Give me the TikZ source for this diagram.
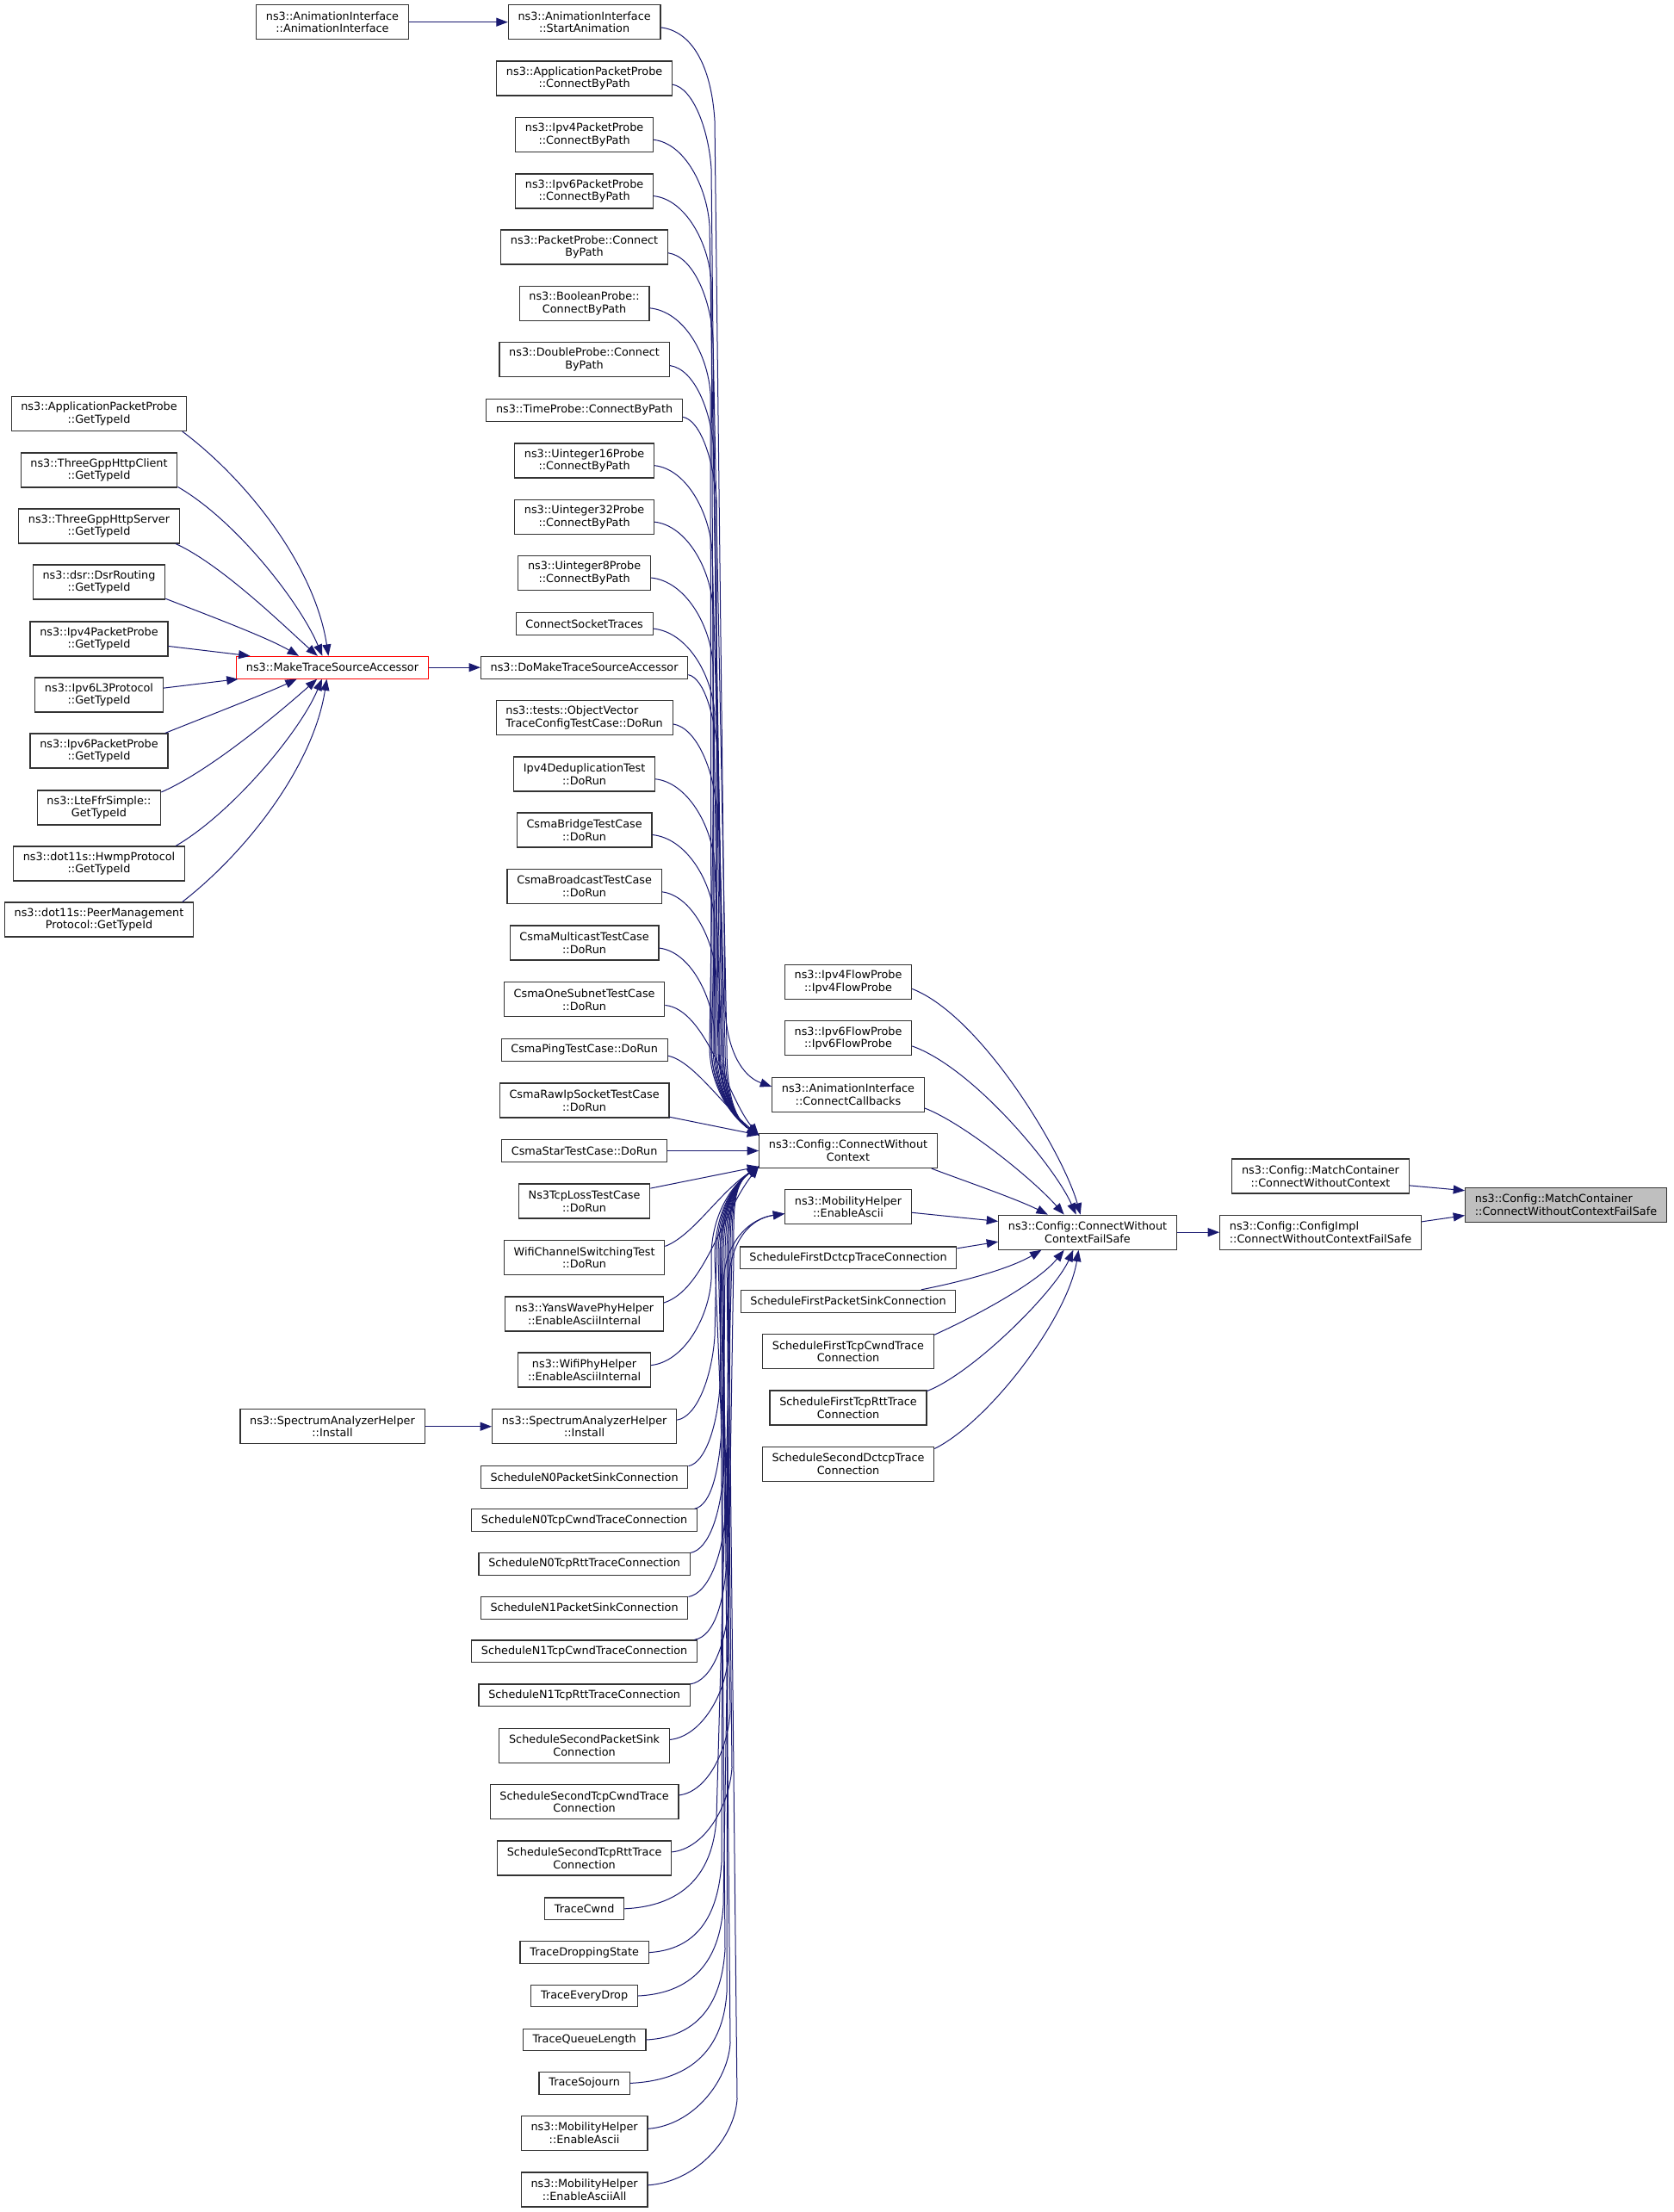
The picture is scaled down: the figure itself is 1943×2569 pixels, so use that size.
\documentclass[tikz,border=0pt]{standalone}
\usepackage{fontspec}
\setmainfont{DejaVu Sans}
\usepackage{tikz}
\usetikzlibrary{arrows.meta}
\definecolor{edgeblue}{HTML}{191970}

\begin{document}
\begin{tikzpicture}[x=0.75pt, y=0.75pt,
    fn/.style={draw=black!80, fill=white, line width=0.85pt, font=\fontsize{9.6}{11}\selectfont,
        align=center, inner xsep=8.45pt, inner ysep=2pt, minimum height=19.3pt},
    fn2/.style={fn, minimum height=30pt},
    call/.style={edgeblue, line width=0.75pt, -{Triangle[length=10pt, width=7.5pt]}}]
    \def\xa{115} % GetTypeId column
    \def\xm{386} % MakeTraceSourceAccessor column
    \def\xb{678.6} % big caller column
    \def\xc{985} % direct callers

    \useasboundingbox (0,0) rectangle (1943,-2569);
    \fill[white] (0,0) rectangle (1943,-2569);

    % GetTypeId callers
    \node[fn2] (a1) at (\xa,-480.5) {ns3::ApplicationPacketProbe\\::GetTypeId};
    \node[fn2] (a2) at (\xa,-546) {ns3::ThreeGppHttpClient\\::GetTypeId};
    \node[fn2] (a3) at (\xa,-611) {ns3::ThreeGppHttpServer\\::GetTypeId};
    \node[fn2] (a4) at (\xa,-676) {ns3::dsr::DsrRouting\\::GetTypeId};
    \node[fn2] (a5) at (\xa,-742) {ns3::Ipv4PacketProbe\\::GetTypeId};
    \node[fn2] (a6) at (\xa,-807) {ns3::Ipv6L3Protocol\\::GetTypeId};
    \node[fn2] (a7) at (\xa,-872) {ns3::Ipv6PacketProbe\\::GetTypeId};
    \node[fn2] (a8) at (\xa,-938) {ns3::LteFfrSimple::\\GetTypeId};
    \node[fn2] (a9) at (\xa,-1003) {ns3::dot11s::HwmpProtocol\\::GetTypeId};
    \node[fn2] (a10) at (\xa,-1068) {ns3::dot11s::PeerManagement\\Protocol::GetTypeId};

    \node[fn2] (anim) at (\xm,-25.7) {ns3::AnimationInterface\\::AnimationInterface};
    \node[fn, draw=red] (mtsa) at (\xm,-775.2) {ns3::MakeTraceSourceAccessor};
    \node[fn2] (sal) at (\xm,-1656.7) {ns3::SpectrumAnalyzerHelper\\::Install};

    % callers of ConnectWithoutContext
    \node[fn2] (b01) at (\xb,-25.7) {ns3::AnimationInterface\\::StartAnimation};
    \node[fn2] (b02) at (\xb,-91) {ns3::ApplicationPacketProbe\\::ConnectByPath};
    \node[fn2] (b03) at (\xb,-156.7) {ns3::Ipv4PacketProbe\\::ConnectByPath};
    \node[fn2] (b04) at (\xb,-222) {ns3::Ipv6PacketProbe\\::ConnectByPath};
    \node[fn2] (b05) at (\xb,-287) {ns3::PacketProbe::Connect\\ByPath};
    \node[fn2] (b06) at (\xb,-352.5) {ns3::BooleanProbe::\\ConnectByPath};
    \node[fn2] (b07) at (\xb,-417.6) {ns3::DoubleProbe::Connect\\ByPath};
    \node[fn] (b08) at (\xb,-476.3) {ns3::TimeProbe::ConnectByPath};
    \node[fn2] (b09) at (\xb,-535) {ns3::Uinteger16Probe\\::ConnectByPath};
    \node[fn2] (b10) at (\xb,-600.5) {ns3::Uinteger32Probe\\::ConnectByPath};
    \node[fn2] (b11) at (\xb,-665.6) {ns3::Uinteger8Probe\\::ConnectByPath};
    \node[fn] (b12) at (\xb,-724.5) {ConnectSocketTraces};
    \node[fn] (b13) at (\xb,-775.2) {ns3::DoMakeTraceSourceAccessor};
    \node[fn2, align=left] (b14) at (\xb,-833.7) {ns3::tests::ObjectVector\\TraceConfigTestCase::DoRun};
    \node[fn2] (b15) at (\xb,-899) {Ipv4DeduplicationTest\\::DoRun};
    \node[fn2] (b16) at (\xb,-964) {CsmaBridgeTestCase\\::DoRun};
    \node[fn2] (b17) at (\xb,-1029.5) {CsmaBroadcastTestCase\\::DoRun};
    \node[fn2] (b18) at (\xb,-1095) {CsmaMulticastTestCase\\::DoRun};
    \node[fn2] (b19) at (\xb,-1160.9) {CsmaOneSubnetTestCase\\::DoRun};
    \node[fn] (b20) at (\xb,-1219.4) {CsmaPingTestCase::DoRun};
    \node[fn2] (b21) at (\xb,-1278) {CsmaRawIpSocketTestCase\\::DoRun};
    \node[fn] (b22) at (\xb,-1336.5) {CsmaStarTestCase::DoRun};
    \node[fn2] (b23) at (\xb,-1395) {Ns3TcpLossTestCase\\::DoRun};
    \node[fn2] (b24) at (\xb,-1460.6) {WifiChannelSwitchingTest\\::DoRun};
    \node[fn2] (b25) at (\xb,-1526) {ns3::YansWavePhyHelper\\::EnableAsciiInternal};
    \node[fn2] (b26) at (\xb,-1591) {ns3::WifiPhyHelper\\::EnableAsciiInternal};
    \node[fn2] (b27) at (\xb,-1656.7) {ns3::SpectrumAnalyzerHelper\\::Install};
    \node[fn] (b28) at (\xb,-1715.4) {ScheduleN0PacketSinkConnection};
    \node[fn] (b29) at (\xb,-1765.7) {ScheduleN0TcpCwndTraceConnection};
    \node[fn] (b30) at (\xb,-1816.4) {ScheduleN0TcpRttTraceConnection};
    \node[fn] (b31) at (\xb,-1867.2) {ScheduleN1PacketSinkConnection};
    \node[fn] (b32) at (\xb,-1917.8) {ScheduleN1TcpCwndTraceConnection};
    \node[fn] (b33) at (\xb,-1968.8) {ScheduleN1TcpRttTraceConnection};
    \node[fn2] (b34) at (\xb,-2027.4) {ScheduleSecondPacketSink\\Connection};
    \node[fn2] (b35) at (\xb,-2092.6) {ScheduleSecondTcpCwndTrace\\Connection};
    \node[fn2] (b36) at (\xb,-2158) {ScheduleSecondTcpRttTrace\\Connection};
    \node[fn] (b37) at (\xb,-2216.8) {TraceCwnd};
    \node[fn] (b38) at (\xb,-2267.6) {TraceDroppingState};
    \node[fn] (b39) at (\xb,-2318) {TraceEveryDrop};
    \node[fn] (b40) at (\xb,-2369) {TraceQueueLength};
    \node[fn] (b41) at (\xb,-2419.4) {TraceSojourn};
    \node[fn2] (b42) at (\xb,-2477.5) {ns3::MobilityHelper\\::EnableAscii};
    \node[fn2] (b43) at (\xb,-2543) {ns3::MobilityHelper\\::EnableAsciiAll};

    % direct callers of ConnectWithoutContextFailSafe
    \node[fn2] (ipv4f) at (\xc,-1140.6) {ns3::Ipv4FlowProbe\\::Ipv4FlowProbe};
    \node[fn2] (ipv6f) at (\xc,-1205.8) {ns3::Ipv6FlowProbe\\::Ipv6FlowProbe};
    \node[fn2] (cc) at (\xc,-1271.3) {ns3::AnimationInterface\\::ConnectCallbacks};
    \node[fn2] (cwc) at (\xc,-1336.5) {ns3::Config::ConnectWithout\\Context};
    \node[fn2] (mhc) at (\xc,-1401.8) {ns3::MobilityHelper\\::EnableAscii};
    \node[fn] (fdctcp) at (\xc,-1460.9) {ScheduleFirstDctcpTraceConnection};
    \node[fn] (fps) at (\xc,-1511.2) {ScheduleFirstPacketSinkConnection};
    \node[fn2] (fcwnd) at (\xc,-1569.7) {ScheduleFirstTcpCwndTrace\\Connection};
    \node[fn2] (frtt) at (\xc,-1635) {ScheduleFirstTcpRttTrace\\Connection};
    \node[fn2] (sdctcp) at (\xc,-1700.2) {ScheduleSecondDctcpTrace\\Connection};

    \node[fn2] (cwcfs) at (1263,-1431.2) {ns3::Config::ConnectWithout\\ContextFailSafe};
    \node[fn2] (mcc) at (1533.5,-1366) {ns3::Config::MatchContainer\\::ConnectWithoutContext};
    \node[fn2, align=left] (cimpl) at (1533.5,-1431.2) {ns3::Config::ConfigImpl\\::ConnectWithoutContextFailSafe};
    \node[fn2, align=left, fill=black!25] (root) at (1818.5,-1399.2) {ns3::Config::MatchContainer\\::ConnectWithoutContextFailSafe};

    % into MakeTraceSourceAccessor
    \draw[call] (a1.-12.5) .. controls (290,-560) and (366,-660) .. (mtsa.109.5);
    \draw[call] (a2.-12.3) .. controls (275,-605) and (349,-701) .. (mtsa.131.8);
    \draw[call] (a3.-13.5) .. controls (258,-656) and (334,-731) .. (mtsa.142.6);
    \draw[call] (a4.-14.6) .. controls (235,-712) and (310,-740) .. (mtsa.161.4);
    \draw[call] (a5.-6.7) -- (mtsa.172.6);
    \draw[call] (a6.6.9) -- (mtsa.187);
    \draw[call] (a7.15.2) .. controls (230,-836) and (310,-805) .. (mtsa.198.6);
    \draw[call] (a8.14.8) .. controls (247,-894) and (334,-819) .. (mtsa.217.4);
    \draw[call] (a9.13.2) .. controls (270,-944) and (349,-849) .. (mtsa.228.2);
    \draw[call] (a10.12.6) .. controls (287,-989) and (364,-889) .. (mtsa.244.5);

    \draw[call] (anim.east) -- (b01.west);
    \draw[call] (mtsa.east) -- (b13.west);
    \draw[call] (sal.east) -- (b27.west);

    % the bundle, from above
    \draw[call] (b01.-4) .. controls +(35,-4) and (826,-75) .. (830,-140) -- (842,-1170) .. controls (844,-1220) and (862,-1250) .. (cc.174.5);
    \draw[call] (b02.-4) .. controls +(24,-4) and (823,-151) .. (826,-196) -- (836,-1215) .. controls (836,-1262) and (850,-1298) .. (cwc.170);
    \draw[call] (b03.-4) .. controls +(36,-4) and (821,-217) .. (824,-262) -- (840,-1215) .. controls (840,-1262) and (850,-1298) .. (cwc.170);
    \draw[call] (b04.-4) .. controls +(37,-4) and (823,-282) .. (826,-327) -- (830,-1215) .. controls (830,-1262) and (850,-1298) .. (cwc.170);
    \draw[call] (b05.-4) .. controls +(29,-4) and (825,-347) .. (828,-392) -- (844,-1215) .. controls (844,-1262) and (850,-1298) .. (cwc.170);
    \draw[call] (b06.-4) .. controls +(40,-4) and (822,-412) .. (825,-457) -- (826,-1215) .. controls (826,-1262) and (850,-1298) .. (cwc.170);
    \draw[call] (b07.-4) .. controls +(29,-4) and (826,-478) .. (829,-523) -- (838,-1215) .. controls (838,-1262) and (850,-1298) .. (cwc.170);
    \draw[call] (b08.-4) .. controls +(21,-4) and (829,-536) .. (832,-581) -- (832,-1215) .. controls (832,-1262) and (850,-1298) .. (cwc.170);
    \draw[call] (b09.-4) .. controls +(37,-4) and (824,-595) .. (827,-640) -- (842,-1215) .. controls (842,-1262) and (850,-1298) .. (cwc.170);
    \draw[call] (b10.-4) .. controls +(37,-4) and (825,-660) .. (828,-705) -- (828,-1215) .. controls (828,-1262) and (850,-1298) .. (cwc.170);
    \draw[call] (b11.-4) .. controls +(40,-4) and (825,-726) .. (828,-771) -- (835,-1215) .. controls (835,-1262) and (850,-1298) .. (cwc.170);
    \draw[call] (b12.-4) .. controls +(40,-4) and (827,-784) .. (830,-829) -- (824,-1215) .. controls (824,-1262) and (850,-1298) .. (cwc.170);
    \draw[call] (b13.-4) .. controls +(19,-4) and (831,-835) .. (834,-880) -- (840,-1215) .. controls (840,-1262) and (850,-1298) .. (cwc.170);
    \draw[call] (b14.-4) .. controls +(27,-4) and (829,-894) .. (832,-939) -- (830,-1215) .. controls (830,-1262) and (850,-1298) .. (cwc.170);
    \draw[call] (b15.-4) .. controls +(37,-4) and (827,-959) .. (830,-1004) -- (838,-1215) .. controls (838,-1262) and (850,-1298) .. (cwc.170);
    \draw[call] (b16.-4) .. controls +(40,-4) and (827,-1024) .. (830,-1069) -- (826,-1215) .. controls (826,-1262) and (850,-1298) .. (cwc.170);
    \draw[call] (b17.-4) .. controls +(34,-4) and (829,-1090) .. (832,-1135) -- (834,-1215) .. controls (834,-1262) and (850,-1298) .. (cwc.170);
    \draw[call] (b18.-4) .. controls +(35,-4) and (827,-1155) .. (830,-1200) -- (830,-1215) .. controls (830,-1262) and (850,-1298) .. (cwc.170);
    \draw[call] (b19.-4) .. controls (820,-1172) and (845,-1275) .. (cwc.170);
    \draw[call] (b20.-4) .. controls (805,-1232) and (840,-1285) .. (cwc.170);
    \draw[call] (b21.-11) -- (cwc.170);
    \draw[call] (b22.east) -- (cwc.west);

    % the bundle, from below
    \draw[call] (b23.11) -- (cwc.190);
    \draw[call] (b24.8) .. controls (805,-1435) and (835,-1385) .. (cwc.190);
    \draw[call] (b25.8) .. controls (818,-1498) and (838,-1410) .. (cwc.190);
    \draw[call] (b26.4) .. controls +(38,4) and (823,-1531) .. (826,-1486) -- (826,-1460) .. controls (826,-1411) and (850,-1376) .. (cwc.190);
    \draw[call] (b27.4) .. controls +(24,4) and (827,-1597) .. (830,-1552) -- (832,-1460) .. controls (832,-1411) and (850,-1376) .. (cwc.190);
    \draw[call] (b28.6) .. controls +(20,4) and (833,-1655) .. (836,-1610) -- (838,-1460) .. controls (838,-1411) and (850,-1376) .. (cwc.190);
    \draw[call] (b29.6) .. controls +(20,4) and (835,-1706) .. (838,-1661) -- (830,-1460) .. controls (830,-1411) and (850,-1376) .. (cwc.190);
    \draw[call] (b30.6) .. controls +(22,4) and (837,-1756) .. (840,-1711) -- (842,-1460) .. controls (842,-1411) and (850,-1376) .. (cwc.190);
    \draw[call] (b31.6) .. controls +(23,4) and (839,-1807) .. (842,-1762) -- (834,-1460) .. controls (834,-1411) and (850,-1376) .. (cwc.190);
    \draw[call] (b32.6) .. controls +(24,4) and (841,-1858) .. (844,-1813) -- (846,-1460) .. controls (846,-1411) and (850,-1376) .. (cwc.190);
    \draw[call] (b33.6) .. controls +(25,4) and (843,-1909) .. (846,-1864) -- (836,-1460) .. controls (836,-1411) and (850,-1376) .. (cwc.190);
    \draw[call] (b34.4) .. controls +(37,4) and (843,-1967) .. (846,-1922) -- (848,-1460) .. controls (848,-1411) and (850,-1376) .. (cwc.190);
    \draw[call] (b35.4) .. controls +(33,4) and (845,-2033) .. (848,-1988) -- (838,-1460) .. controls (838,-1411) and (850,-1376) .. (cwc.190);
    \draw[call] (b36.4) .. controls +(38,4) and (847,-2098) .. (850,-2053) -- (844,-1460) .. controls (844,-1411) and (850,-1376) .. (cwc.190);
    \draw[call] (b37.east) .. controls +(85,4) and (829,-2157) .. (832,-2112) -- (850,-1460) .. controls (850,-1411) and (850,-1376) .. (cwc.190);
    \draw[call] (b38.east) .. controls +(67,4) and (835,-2208) .. (838,-2163) -- (840,-1460) .. controls (840,-1411) and (850,-1376) .. (cwc.190);
    \draw[call] (b39.east) .. controls +(79,4) and (837,-2258) .. (840,-2213) -- (852,-1460) .. controls (852,-1411) and (850,-1376) .. (cwc.190);
    \draw[call] (b40.east) .. controls +(73,4) and (839,-2309) .. (842,-2264) -- (836,-1460) .. controls (836,-1411) and (850,-1376) .. (cwc.190);
    \draw[call] (b41.east) .. controls +(90,4) and (841,-2359) .. (844,-2314) -- (846,-1460) .. controls (846,-1411) and (850,-1376) .. (cwc.190);
    \draw[call] (b42.4) .. controls +(52,4) and (845,-2418) .. (848,-2373) -- (840,-1490) .. controls (842,-1440) and (872,-1415) .. (mhc.186);
    \draw[call] (b43.4) .. controls +(57,4) and (853,-2483) .. (856,-2438) -- (846,-1490) .. controls (848,-1440) and (872,-1415) .. (mhc.186);

    % into ConnectWithoutContextFailSafe
    \draw[call] (ipv4f.-6.7) .. controls (1140,-1180) and (1235,-1340) .. (cwcfs.112);
    \draw[call] (ipv6f.-7.4) .. controls (1130,-1240) and (1225,-1355) .. (cwcfs.123);
    \draw[call] (cc.-10.6) .. controls (1120,-1305) and (1200,-1370) .. (cwcfs.143.5);
    \draw[call] (cwc.-12.8) .. controls (1110,-1368) and (1180,-1392) .. (cwcfs.156);
    \draw[call] (mhc.-5.4) -- (cwcfs.173.4);
    \draw[call] (fdctcp.5.9) -- (cwcfs.186);
    \draw[call] (fps.9.7) .. controls (1110,-1490) and (1170,-1475) .. (cwcfs.201.5);
    \draw[call] (fcwnd.11.9) .. controls (1130,-1530) and (1205,-1490) .. (cwcfs.217.2);
    \draw[call] (frtt.12.4) .. controls (1130,-1595) and (1225,-1500) .. (cwcfs.231.3);
    \draw[call] (sdctcp.10.4) .. controls (1150,-1650) and (1240,-1530) .. (cwcfs.243.4);

    \draw[call] (cwcfs.east) -- (cimpl.west);
    \draw[call] (mcc.-6.6) -- (root.172.7);
    \draw[call] (cimpl.6.6) -- (root.186.4);
\end{tikzpicture}
\end{document}
